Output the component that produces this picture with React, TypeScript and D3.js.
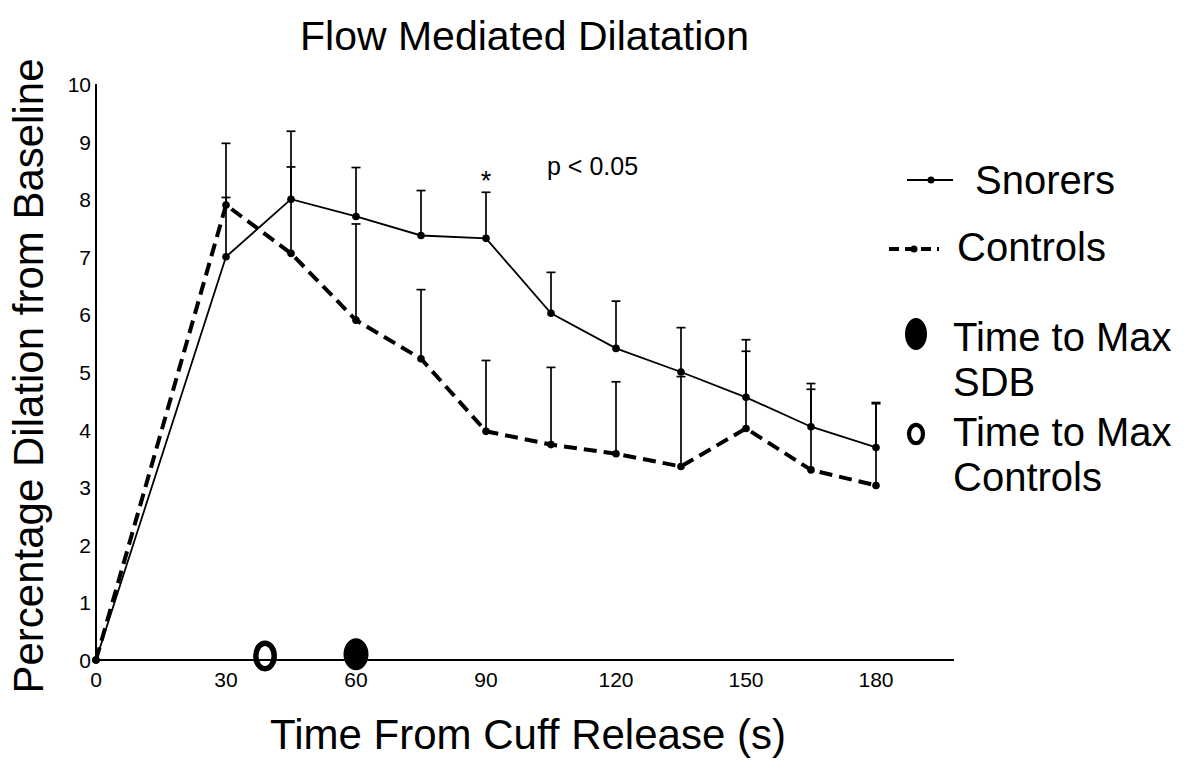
import React from "react";
import * as d3 from "d3";

// seconds after cuff release
const times = [0, 30, 45, 60, 75, 90, 105, 120, 135, 150, 165, 180];
// % dilation from baseline
const snorers = [0, 7.0, 8.0, 7.7, 7.37, 7.32, 6.02, 5.41, 5.0, 4.56, 4.05, 3.69];
const snorersSD = [0, 1.97, 1.18, 0.85, 0.78, 0.8, 0.71, 0.82, 0.77, 1.0, 0.75, 0.78];
const controls = [0, 7.9, 7.06, 5.9, 5.23, 3.97, 3.74, 3.58, 3.36, 4.02, 3.3, 3.03];
const controlsSD = [0, 0.13, 1.5, 1.67, 1.2, 1.23, 1.34, 1.25, 1.56, 1.34, 1.4, 1.42];

const xTicks = [0, 30, 60, 90, 120, 150, 180];
const yTicks = [0, 1, 2, 3, 4, 5, 6, 7, 8, 9, 10];

// time to max dilation markers
const maxSDB = 60;
const maxControls = 39;

const font = "'Liberation Sans', Arial, sans-serif";

const App = () => {
  const width = 1184;
  const height = 761;

  const x = d3.scaleLinear().domain([0, 180]).range([96, 876]);
  const y = d3.scaleLinear().domain([0, 10]).range([660, 84]);
  const xEnd = x(198);

  const line = d3
    .line<number>()
    .x((d, i) => x(times[i]))
    .y((d) => y(d));

  const errBars = (vals: number[], sds: number[], key: string) =>
    vals.map((v, i) =>
      sds[i] > 0 ? (
        <g key={key + i} stroke="#000" strokeWidth={1.7}>
          <line x1={x(times[i])} x2={x(times[i])} y1={y(v)} y2={y(v + sds[i])} />
          <line
            x1={x(times[i]) - 4.5}
            x2={x(times[i]) + 4.5}
            y1={y(v + sds[i])}
            y2={y(v + sds[i])}
          />
        </g>
      ) : null
    );

  return (
    <svg
      width={width}
      height={height}
      style={{ position: "absolute", left: 0, top: 0, background: "#fff" }}
    >
      <text x={300} y={50} fontFamily={font} fontSize={41}>
        Flow Mediated Dilatation
      </text>

      {/* axes */}
      <line x1={x(0)} x2={x(0)} y1={y(0)} y2={y(10)} stroke="#000" strokeWidth={2} />
      <line x1={x(0)} x2={xEnd} y1={y(0)} y2={y(0)} stroke="#000" strokeWidth={2} />
      {yTicks.map((t) => (
        <text
          key={"y" + t}
          x={91}
          y={y(t) + 8}
          textAnchor="end"
          fontFamily={font}
          fontSize={21}
        >
          {t}
        </text>
      ))}
      {xTicks.map((t) => (
        <text
          key={"x" + t}
          x={x(t)}
          y={687}
          textAnchor="middle"
          fontFamily={font}
          fontSize={21}
        >
          {t}
        </text>
      ))}

      {errBars(snorers, snorersSD, "s")}
      {errBars(controls, controlsSD, "c")}

      <path d={line(snorers) || ""} fill="none" stroke="#000" strokeWidth={1.8} />
      <path
        d={line(controls) || ""}
        fill="none"
        stroke="#000"
        strokeWidth={4}
        strokeDasharray="13,7"
      />
      {snorers.map((v, i) => (
        <circle key={"sp" + i} cx={x(times[i])} cy={y(v)} r={3.8} fill="#000" />
      ))}
      {controls.map((v, i) => (
        <circle key={"cp" + i} cx={x(times[i])} cy={y(v)} r={3.8} fill="#000" />
      ))}

      {/* time-to-max markers */}
      <ellipse cx={x(maxSDB)} cy={y(0.1)} rx={12.5} ry={16} fill="#000" />
      <ellipse
        cx={x(maxControls)}
        cy={y(0.07)}
        rx={9.2}
        ry={12.8}
        fill="none"
        stroke="#000"
        strokeWidth={5.5}
      />

      <text x={x(90)} y={190} textAnchor="middle" fontFamily={font} fontSize={27}>
        *
      </text>
      <text x={547} y={175} fontFamily={font} fontSize={25}>
        p &lt; 0.05
      </text>

      {/* legend */}
      <line x1={907} x2={953} y1={180} y2={180} stroke="#000" strokeWidth={1.8} />
      <circle cx={931} cy={180} r={3.5} fill="#000" />
      <text x={975} y={194} fontFamily={font} fontSize={40}>
        Snorers
      </text>
      <line
        x1={889}
        x2={939}
        y1={249}
        y2={249}
        stroke="#000"
        strokeWidth={3.8}
        strokeDasharray="10,6"
      />
      <circle cx={914} cy={249} r={3.5} fill="#000" />
      <text x={957} y={261} fontFamily={font} fontSize={40}>
        Controls
      </text>

      <ellipse cx={916} cy={334} rx={11} ry={16} fill="#000" />
      <text x={953} y={351} fontFamily={font} fontSize={40}>
        Time to Max
      </text>
      <text x={953} y={396} fontFamily={font} fontSize={40}>
        SDB
      </text>
      <ellipse
        cx={916}
        cy={434}
        rx={7}
        ry={9.2}
        fill="none"
        stroke="#000"
        strokeWidth={4.2}
      />
      <text x={953} y={446} fontFamily={font} fontSize={40}>
        Time to Max
      </text>
      <text x={953} y={491} fontFamily={font} fontSize={40}>
        Controls
      </text>

      {/* axis titles */}
      <text
        transform={`translate(43, 376) rotate(-90)`}
        textAnchor="middle"
        fontFamily={font}
        fontSize={42}
      >
        Percentage Dilation from Baseline
      </text>
      <text x={528} y={749} textAnchor="middle" fontFamily={font} fontSize={42}>
        Time From Cuff Release (s)
      </text>
    </svg>
  );
};

export default App;
